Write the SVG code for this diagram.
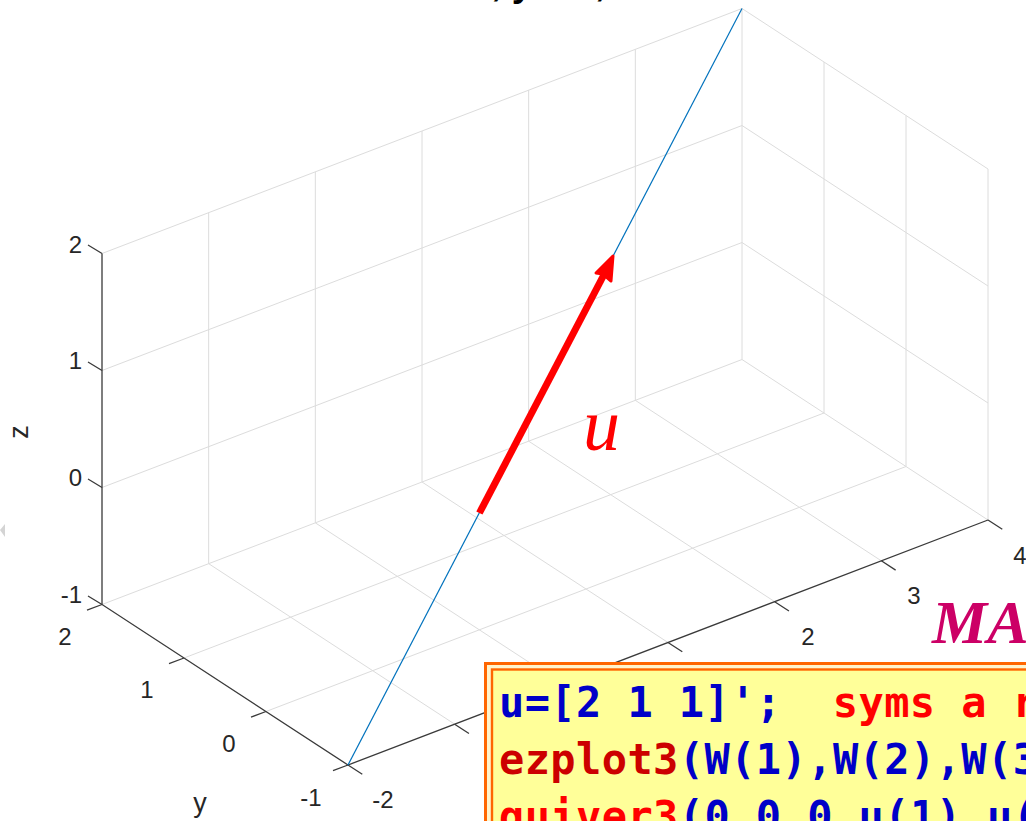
<svg xmlns="http://www.w3.org/2000/svg" width="1026" height="821" viewBox="0 0 1026 821">
<style>
.grid{stroke:#DCDCDC;stroke-width:1;fill:none}
.axis{stroke:#3a3a3a;stroke-width:1.3;fill:none}
.tick{font-family:"Liberation Sans",Arial,sans-serif;font-size:24px;fill:#262626}
.code{font-family:"DejaVu Sans Mono","Liberation Mono",monospace;font-size:42px;font-weight:bold;letter-spacing:0.4px}
.blue{fill:#0000C8}
.red{fill:#FF0000}
.dred{fill:#CC0000}
</style>
<rect x="0" y="0" width="1026" height="821" fill="#FFFFFF"/>
<g id="title">
<text x="377" y="-4" font-family="Liberation Sans,Arial,sans-serif" font-size="37" font-weight="bold" fill="#000">x = 2 a, y = a, z = a</text>
</g>
<g id="grid">
<path class="grid" d="M208.67,563.67V212.67 M315.33,522.83V171.83 M422,482V131 M528.67,441.17V90.17 M635.33,400.33V49.33 M742,359.5V8.5
M102,487.5L742,242.5 M102,370.5L742,125.5 M102,253.5L742,8.5 M102,604.5L742,359.5"/>
<path class="grid" d="M988,520V169 M906,466.5V115.5 M824,413V62
M988,520L742,359.5 M988,403L742,242.5 M988,286L742,125.5 M988,169L742,8.5"/>
<path class="grid" d="M454.67,724.17L208.67,563.67 M561.33,683.33L315.33,522.83 M668,642.5L422,482 M774.67,601.67L528.67,441.17 M881.33,560.83L635.33,400.33
M266,711.5L906,466.5 M184,658L824,413"/>
</g>
<g id="axes">
<path class="axis" d="M102,253.5V604.5 L348,765 L988,520"/>
<path class="axis" d="M102,253.5l-14,-8.5 M102,370.5l-14,-8.5 M102,487.5l-14,-8.5 M102,604.5l-14,-8.5"/>
<path class="axis" d="M102,604.5l-15,5.7 M184,658l-15,5.7 M266,711.5l-15,5.7 M348,765l-15,5.7"/>
<path class="axis" d="M348,765l14.3,9.3 M454.67,724.17l14.3,9.3 M561.33,683.33l14.3,9.3 M668,642.5l14.3,9.3 M774.67,601.67l14.3,9.3 M881.33,560.83l14.3,9.3 M988,520l14.3,9.3"/>
</g>
<g id="tick-labels">
<text class="tick" x="82" y="253" text-anchor="end">2</text>
<text class="tick" x="82" y="369" text-anchor="end">1</text>
<text class="tick" x="82" y="486" text-anchor="end">0</text>
<text class="tick" x="82" y="603" text-anchor="end">-1</text>
<text class="tick" x="65" y="645" text-anchor="middle">2</text>
<text class="tick" x="147" y="698" text-anchor="middle">1</text>
<text class="tick" x="229" y="752" text-anchor="middle">0</text>
<text class="tick" x="311" y="806" text-anchor="middle">-1</text>
<text class="tick" x="383" y="808" text-anchor="middle">-2</text>
<text class="tick" x="808" y="645" text-anchor="middle">2</text>
<text class="tick" x="914" y="604" text-anchor="middle">3</text>
<text class="tick" x="1020" y="564" text-anchor="middle">4</text>
</g>
<g id="axis-labels">
<text x="200" y="812" text-anchor="middle" font-family="Liberation Sans,Arial,sans-serif" font-size="27" fill="#262626">y</text>
<text transform="translate(28,432) rotate(-90)" text-anchor="middle" font-family="Liberation Sans,Arial,sans-serif" font-size="27" fill="#262626">z</text>
</g>
<g id="curve">
<line x1="348" y1="765" x2="742" y2="8.5" stroke="#0072BD" stroke-width="1.2"/>
</g>
<g id="vector-u">
<line x1="479.4" y1="513" x2="609" y2="265" stroke="#FF0000" stroke-width="7" stroke-linecap="butt"/>
<polygon points="613,256 596,273 603,274 611,281" fill="#FF0000" stroke="#FF0000" stroke-width="3" stroke-linejoin="round"/>
<text x="583" y="450" font-family="Liberation Serif,'Times New Roman',serif" font-style="italic" font-size="74" fill="#FF0000">u</text>
</g>
<g id="side-marker">
<polygon points="0,530 5,524 5,537" fill="#D4D4D4"/>
</g>
<g id="brand">
<text x="932" y="643" font-family="Liberation Serif,'Times New Roman',serif" font-style="italic" font-weight="bold" font-size="62" fill="#CC0066">MA</text>
</g>
<g id="code-box">
<rect x="485.5" y="663.5" width="560" height="200" fill="#FFF4CC" stroke="#FF6600" stroke-width="3"/>
<rect x="492" y="669.5" width="560" height="200" fill="#FFFF99" stroke="#FF6600" stroke-width="2.4"/>
<text class="code" y="717"><tspan class="blue" x="499">u=[2 1 1]';</tspan><tspan class="red" x="832.8">syms a r</tspan></text>
<text class="code" y="774"><tspan class="dred" x="499">ezplot3</tspan><tspan class="blue">(W(1),W(2),W(3</tspan></text>
<text class="code" y="831"><tspan class="red" x="499">quiver3</tspan><tspan class="blue">(0,0,0,u(1),u(</tspan></text>
</g>
</svg>
